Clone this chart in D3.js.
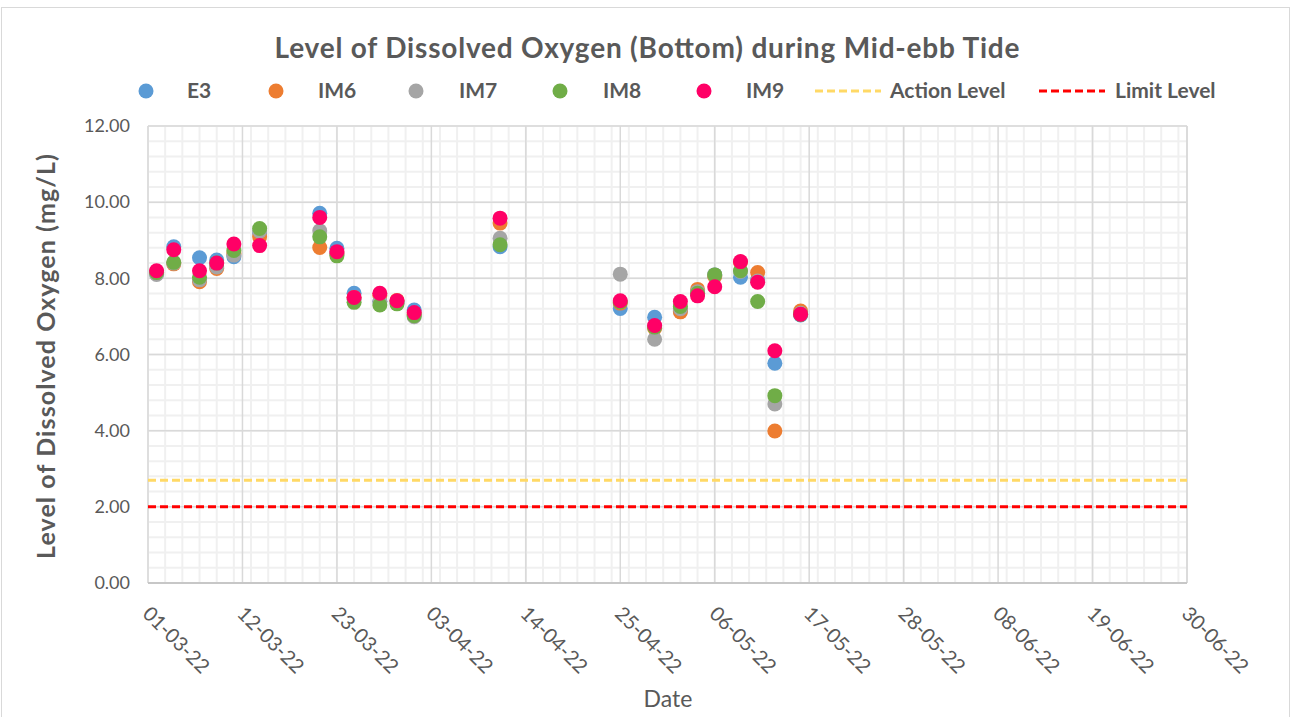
<!DOCTYPE html>
<html>
<head>
<meta charset="utf-8">
<script src="https://cdn.jsdelivr.net/npm/d3@7"></script>
<style>
  html, body { margin: 0; padding: 0; background: #fff; }
  svg { display: block; font-family: Lato, "Open Sans", sans-serif; }
</style>
</head>
<body>
<svg id="chart" width="1291" height="717"></svg>
<script>
// ---- Data ----
const dates = ["2022-03-02","2022-03-04","2022-03-07","2022-03-09","2022-03-11","2022-03-14","2022-03-21","2022-03-23","2022-03-25","2022-03-28","2022-03-30","2022-04-01","2022-04-11","2022-04-25","2022-04-29","2022-05-02","2022-05-04","2022-05-06","2022-05-09","2022-05-11","2022-05-13","2022-05-16"];
const E3  = [8.12, 8.83, 8.54, 8.48, 8.57, 9.19, 9.71, 8.79, 7.61, 7.40, 7.40, 7.17, 8.83, 7.21, 6.98, 7.15, 7.60, 8.09, 8.03, 7.96, 5.77, 7.04];
const IM6 = [8.15, 8.38, 7.91, 8.26, 8.65, 9.09, 8.81, 8.65, 7.50, 7.55, 7.42, 7.05, 9.45, 7.35, 6.69, 7.12, 7.71, 8.05, 8.42, 8.15, 3.99, 7.14];
const IM7 = [8.10, 8.40, 7.96, 8.30, 8.61, 9.24, 9.25, 8.65, 7.45, 7.40, 7.35, 6.99, 9.05, 8.11, 6.40, 7.20, 7.65, 8.09, 8.18, 7.93, 4.70, 7.08];
const IM8 = [8.15, 8.42, 8.03, 8.40, 8.73, 9.31, 9.09, 8.59, 7.37, 7.30, 7.33, 7.02, 8.88, 7.38, 6.72, 7.26, 7.61, 8.09, 8.20, 7.39, 4.92, 7.05];
const IM9 = [8.20, 8.75, 8.20, 8.40, 8.90, 8.86, 9.60, 8.70, 7.50, 7.61, 7.41, 7.10, 9.58, 7.41, 6.76, 7.39, 7.54, 7.78, 8.44, 7.90, 6.10, 7.06];
const actionLevel = 2.7;
const limitLevel = 2.0;
const seriesNames = ["E3", "IM6", "IM7", "IM8", "IM9"];
const seriesValues = [E3, IM6, IM7, IM8, IM9];
const xTickLabels = ["01-03-22","12-03-22","23-03-22","03-04-22","14-04-22","25-04-22","06-05-22","17-05-22","28-05-22","08-06-22","19-06-22","30-06-22"];
const yTicks = [0, 2, 4, 6, 8, 10, 12];
const title = "Level of Dissolved Oxygen (Bottom) during Mid-ebb Tide";
const yTitle = "Level of Dissolved Oxygen (mg/L)";
const xTitle = "Date";

// ---- Styles ----
const colors = {E3: "#5b9bd5", IM6: "#ed7d31", IM7: "#a5a5a5", IM8: "#70ad47", IM9: "#ff0066"};
const actionColor = "#ffd966", limitColor = "#ff0000";
const textColor = "#595959";

const svg = d3.select("#chart");
const W = 1291, H = 717;
const plot = {left: 148, right: 1187, top: 126, bottom: 583};

const parse = d3.timeParse("%Y-%m-%d");
const parseTick = d3.timeParse("%d-%m-%y");
const xDomain = [parseTick(xTickLabels[0]), parseTick(xTickLabels[xTickLabels.length - 1])];
const x = d3.scaleTime().domain(xDomain).range([plot.left, plot.right]);
const y = d3.scaleLinear().domain([0, 12]).range([plot.bottom, plot.top]);

// chart frame
svg.append("rect").attr("x", 1.5).attr("y", 7.5).attr("width", W - 3).attr("height", H - 6)
  .attr("fill", "#fff").attr("stroke", "#d9d9d9").attr("stroke-width", 1);

// minor grid
const minorX = d3.timeDay.range(xDomain[0], d3.timeDay.offset(xDomain[1], 1), 2);
const minorY = d3.range(0, 12.001, 0.4);
const g = svg.append("g");
g.selectAll("line.mx").data(minorX).join("line")
  .attr("x1", d => x(d)).attr("x2", d => x(d)).attr("y1", plot.top).attr("y2", plot.bottom)
  .attr("stroke", "#f0f0f0").attr("stroke-width", 2);
g.selectAll("line.my").data(minorY).join("line")
  .attr("x1", plot.left).attr("x2", plot.right).attr("y1", d => y(d)).attr("y2", d => y(d))
  .attr("stroke", "#f0f0f0").attr("stroke-width", 2);

// major grid
const tickDates = xTickLabels.map(parseTick);
g.selectAll("line.Mx").data(tickDates).join("line")
  .attr("x1", d => x(d)).attr("x2", d => x(d)).attr("y1", plot.top).attr("y2", plot.bottom)
  .attr("stroke", "#d9d9d9").attr("stroke-width", 1.5);
g.selectAll("line.My").data(yTicks).join("line")
  .attr("x1", plot.left).attr("x2", plot.right).attr("y1", d => y(d)).attr("y2", d => y(d))
  .attr("stroke", "#d9d9d9").attr("stroke-width", 1.5);
g.append("line").attr("x1", plot.right).attr("x2", plot.right).attr("y1", plot.top).attr("y2", plot.bottom)
  .attr("stroke", "#d9d9d9").attr("stroke-width", 1.5);
g.append("line").attr("x1", plot.left).attr("x2", plot.right).attr("y1", plot.bottom).attr("y2", plot.bottom)
  .attr("stroke", "#bfbfbf").attr("stroke-width", 1.5);

// reference lines
svg.append("line").attr("x1", plot.left).attr("x2", plot.right)
  .attr("y1", y(actionLevel)).attr("y2", y(actionLevel))
  .attr("stroke", actionColor).attr("stroke-width", 3).attr("stroke-dasharray", "8,4");
svg.append("line").attr("x1", plot.left).attr("x2", plot.right)
  .attr("y1", y(limitLevel)).attr("y2", y(limitLevel))
  .attr("stroke", limitColor).attr("stroke-width", 3).attr("stroke-dasharray", "8,4");

// points
seriesNames.forEach((name, si) => {
  const vals = seriesValues[si];
  svg.append("g").selectAll("circle").data(vals.map((v, i) => ({d: parse(dates[i]), v})))
    .join("circle")
    .attr("cx", d => x(d.d)).attr("cy", d => y(d.v)).attr("r", 7.5)
    .attr("fill", colors[name]);
});

// y axis labels
const yAxis = d3.axisLeft(y).tickValues(yTicks).tickFormat(d3.format(".2f")).tickSize(0).tickPadding(18);
const ya = svg.append("g").attr("transform", `translate(${plot.left},0)`).call(yAxis);
ya.select(".domain").remove();
ya.selectAll("text").attr("fill", textColor).style("font-size", "18px").style("font-family", "Lato, sans-serif");

// x axis labels
const xAxis = d3.axisBottom(x).tickValues(tickDates).tickFormat(d3.timeFormat("%d-%m-%y")).tickSize(0);
const xa = svg.append("g").attr("transform", `translate(0,${plot.bottom})`).call(xAxis);
xa.select(".domain").remove();
xa.selectAll("text").attr("fill", textColor).style("font-size", "20px").style("font-family", "Lato, sans-serif")
  .attr("text-anchor", "start").attr("dy", "0.35em").attr("y", 0)
  .attr("transform", "translate(-2,27) rotate(45)");

// titles
svg.append("text").attr("x", 647).attr("y", 58).attr("text-anchor", "middle")
  .attr("fill", textColor).style("font-size", "28px").style("font-weight", "bold")
  .attr("textLength", 745).attr("lengthAdjust", "spacing").text(title);
svg.append("text").attr("transform", `translate(55,${(plot.top + plot.bottom) / 2 + 2}) rotate(-90)`)
  .attr("text-anchor", "middle").attr("fill", textColor)
  .style("font-size", "25px").style("font-weight", "bold")
  .attr("textLength", 405).attr("lengthAdjust", "spacing").text(yTitle);
svg.append("text").attr("x", 668).attr("y", 707).attr("text-anchor", "middle")
  .attr("fill", textColor).style("font-size", "23px").text(xTitle);

// legend
const legendY = 91;
const legendMarkerX = [146, 276, 416, 560, 704];
const legendTextX = [187, 318, 459, 603, 746];
seriesNames.forEach((name, i) => {
  svg.append("circle").attr("cx", legendMarkerX[i]).attr("cy", legendY).attr("r", 7.5).attr("fill", colors[name]);
  svg.append("text").attr("x", legendTextX[i]).attr("y", legendY).attr("dy", "0.35em")
    .attr("fill", textColor).style("font-size", "21px").style("font-weight", "bold").text(name);
});
const lineLegends = [
  {label: "Action Level", color: actionColor, x1: 815, x2: 881, tx: 890},
  {label: "Limit Level", color: limitColor, x1: 1039, x2: 1105, tx: 1115}
];
lineLegends.forEach(l => {
  svg.append("line").attr("x1", l.x1).attr("x2", l.x2).attr("y1", legendY).attr("y2", legendY)
    .attr("stroke", l.color).attr("stroke-width", 3).attr("stroke-dasharray", "8,4");
  svg.append("text").attr("x", l.tx).attr("y", legendY).attr("dy", "0.35em")
    .attr("fill", textColor).style("font-size", "21px").style("font-weight", "bold").text(l.label);
});
</script>
</body>
</html>
